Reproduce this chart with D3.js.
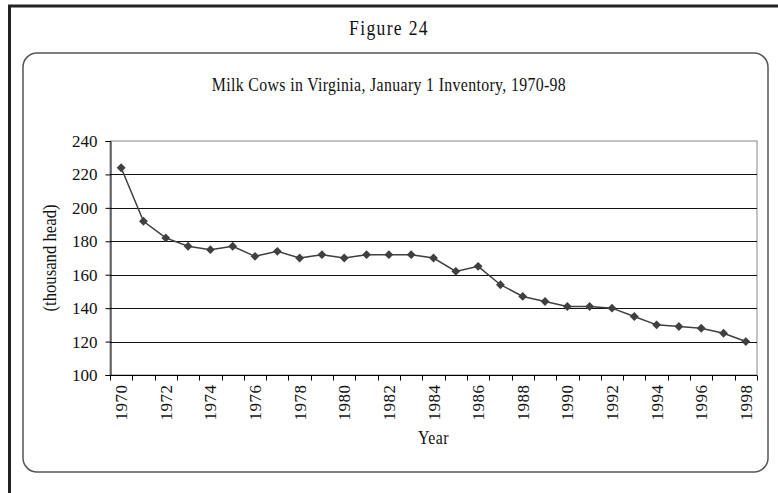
<!DOCTYPE html>
<html>
<head>
<meta charset="utf-8">
<script src="https://cdn.jsdelivr.net/npm/d3@7"></script>
<style>
  body { margin: 0; background: #fff; }
  text { font-family: "Liberation Serif", "Times New Roman", serif; fill: #111; }
</style>
</head>
<body>
<div id="chart"></div>
<script>
// Milk cows in Virginia, Jan 1 inventory (thousand head)
let years = d3.range(1970, 1999);
let cows = [224, 192, 182, 177, 175, 177, 171, 174, 170, 172,
            170, 172, 172, 172, 170, 162, 165, 154, 147, 144,
            141, 141, 140, 135, 130, 129, 128, 125, 120];
let yTicks = [100, 120, 140, 160, 180, 200, 220, 240];
let yearLabels = years.filter(y => y % 2 == 0);

let width = 778, height = 493;
let squeeze = 0.88; // the source type is a narrow Times

let svg = d3.select("#chart").append("svg")
    .attr("width", width)
    .attr("height", height);

// outer page frame (right/bottom run off the picture)
svg.append("rect")
    .attr("x", 9.5).attr("y", 6)
    .attr("width", width + 20).attr("height", height + 20)
    .attr("fill", "none")
    .attr("stroke", "#222")
    .attr("stroke-width", 3);

svg.append("text")
    .attr("transform", `translate(389,35) scale(${squeeze},1)`)
    .attr("text-anchor", "middle")
    .style("font-size", "20px")
    .style("letter-spacing", "1.5px")
    .text("Figure 24");

// rounded chart box
svg.append("rect")
    .attr("x", 23).attr("y", 53)
    .attr("width", 745).attr("height", 419)
    .attr("rx", 14).attr("ry", 14)
    .attr("fill", "none")
    .attr("stroke", "#555")
    .attr("stroke-width", 1.5);

svg.append("text")
    .attr("transform", `translate(389,91) scale(${squeeze},1)`)
    .attr("text-anchor", "middle")
    .style("font-size", "18px")
    .style("letter-spacing", "0.4px")
    .text("Milk Cows in Virginia, January 1 Inventory, 1970-98");

let plot = {left: 110, top: 141, right: 757, bottom: 375};

let x = d3.scaleBand()
    .domain(years)
    .range([plot.left, plot.right])
    .padding(0);

let y = d3.scaleLinear()
    .domain([100, 240])
    .range([plot.bottom, plot.top]);

// plot border + gridlines
svg.append("rect")
    .attr("x", plot.left).attr("y", plot.top)
    .attr("width", plot.right - plot.left).attr("height", plot.bottom - plot.top)
    .attr("fill", "none")
    .attr("stroke", "#888")
    .attr("stroke-width", 1);

svg.append("g")
  .selectAll("line")
  .data(yTicks.slice(1, -1))
  .enter()
  .append("line")
  .attr("x1", plot.left).attr("x2", plot.right)
  .attr("y1", d => Math.round(y(d)) + 0.5)
  .attr("y2", d => Math.round(y(d)) + 0.5)
  .attr("stroke", "#111");

// y axis
let yAxis = svg.append("g")
    .attr("transform", `translate(${plot.left + 0.5},0)`)
    .call(d3.axisLeft(y).tickValues(yTicks).tickSize(5).tickPadding(8));
yAxis.select(".domain").attr("stroke", "#000");
yAxis.selectAll(".tick line").attr("stroke", "#000");
yAxis.selectAll("text")
    .style("font-size", "17px")
    .attr("font-family", null);

// x axis: ticks at category boundaries, labels every other year
let xAxis = svg.append("g")
    .attr("transform", `translate(0,${plot.bottom + 0.5})`);
xAxis.append("line")
    .attr("x1", plot.left).attr("x2", plot.right)
    .attr("stroke", "#000");
xAxis.selectAll("line.tk")
    .data(years.concat([1999]))
    .enter()
    .append("line")
    .attr("class", "tk")
    .attr("x1", d => Math.round(d == 1999 ? plot.right : x(d)) + 0.5)
    .attr("x2", d => Math.round(d == 1999 ? plot.right : x(d)) + 0.5)
    .attr("y1", 0).attr("y2", 5)
    .attr("stroke", "#000");
xAxis.selectAll("text")
    .data(yearLabels)
    .enter()
    .append("text")
    .attr("transform", d => `translate(${x(d) + x.bandwidth() / 2 + 6},9) rotate(-90)`)
    .attr("text-anchor", "end")
    .style("font-size", "17px")
    .style("letter-spacing", "0.5px")
    .text(d => d);

svg.append("text")
    .attr("transform", `translate(${(plot.left + plot.right) / 2},444) scale(${squeeze},1)`)
    .attr("text-anchor", "middle")
    .style("font-size", "18px")
    .style("letter-spacing", "0.5px")
    .text("Year");

svg.append("text")
    .attr("transform", `translate(56,${(plot.top + plot.bottom) / 2}) rotate(-90) scale(${squeeze},1)`)
    .attr("text-anchor", "middle")
    .style("font-size", "19px")
    .text("(thousand head)");

// series
let line = d3.line()
    .x((d, i) => x(years[i]) + x.bandwidth() / 2)
    .y(d => y(d));

svg.append("path")
    .datum(cows)
    .attr("d", line)
    .attr("fill", "none")
    .attr("stroke", "#404040")
    .attr("stroke-width", 1.5);

svg.append("g")
  .selectAll("path")
  .data(cows)
  .enter()
  .append("path")
  .attr("d", d3.symbol().type(d3.symbolDiamond2).size(50))
  .attr("transform", (d, i) => `translate(${x(years[i]) + x.bandwidth() / 2},${y(d)})`)
  .attr("fill", "#404040");
</script>
</body>
</html>
